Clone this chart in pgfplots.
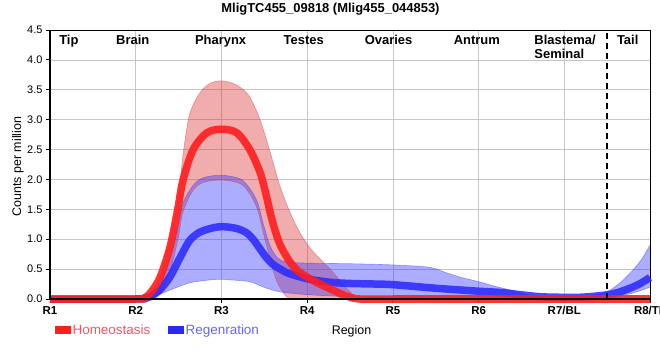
\documentclass[border=0pt]{standalone}
\usepackage{pgfplots}
\pgfplotsset{compat=1.18}
\usepackage{pgfplotstable}
\usepgfplotslibrary{fillbetween}
\usepackage{fontspec}
\setmainfont{Liberation Sans}
\definecolor{hred}{RGB}{255,30,30}
\definecolor{hband}{RGB}{220,50,50}
\definecolor{rblue}{RGB}{40,40,255}
\definecolor{rband}{RGB}{50,50,255}
\definecolor{htxt}{RGB}{255,80,100}
\definecolor{rtxt}{RGB}{100,100,255}

% Homeostasis mean
\pgfplotstableread{
x y
1 0
2 0
2.1 0.02
2.17 0.1
2.28 0.35
2.4 0.87
2.49 1.5
2.55 1.98
2.67 2.5
2.83 2.78
3.0 2.84
3.18 2.78
3.33 2.5
3.45 2.12
3.52 1.75
3.58 1.38
3.64 1.08
3.7 0.86
3.8 0.62
3.9 0.46
4.03 0.34
4.15 0.25
4.27 0.17
4.4 0.08
4.5 0.03
4.62 0
5 0
6 0
7 0
8 0
}\tHm
% Homeostasis upper
\pgfplotstableread{
x y
1 0
2 0
2.1 0.03
2.2 0.15
2.3 0.45
2.4 1.0
2.47 1.5
2.52 2.0
2.56 2.5
2.63 3.1
2.75 3.45
2.87 3.61
3.0 3.65
3.13 3.61
3.23 3.53
3.33 3.38
3.45 3.0
3.57 2.45
3.68 1.9
3.8 1.45
3.92 1.1
4.03 0.86
4.15 0.67
4.27 0.5
4.4 0.28
4.5 0.12
4.62 0
5 0
6 0
7 0
8 0
}\tHu
% Homeostasis lower
\pgfplotstableread{
x y
1 0
2 0
2.1 0
2.2 0.01
2.3 0.12
2.4 0.45
2.5 1.05
2.55 1.45
2.67 1.82
2.79 1.95
3.0 1.99
3.22 1.93
3.33 1.76
3.42 1.5
3.49 1.1
3.57 0.65
3.65 0.28
3.77 0.02
3.85 0
5 0
6 0
7 0
8 0
}\tHl
% Regeneration mean
\pgfplotstableread{
x y
1 0
2.0 0
2.1 0.01
2.17 0.04
2.28 0.15
2.4 0.37
2.52 0.7
2.63 0.98
2.75 1.12
2.9 1.19
3.0 1.21
3.1 1.2
3.2 1.17
3.3 1.1
3.38 0.98
3.45 0.84
3.52 0.7
3.6 0.58
3.7 0.49
3.8 0.42
4.03 0.33
4.27 0.28
4.5 0.26
4.8 0.25
5.0 0.24
5.5 0.18
6.0 0.13
6.25 0.11
6.5 0.07
6.7 0.04
6.9 0.03
7.2 0.03
7.5 0.07
7.65 0.12
7.8 0.2
7.9 0.27
8.0 0.36
}\tRm
% Regeneration upper
\pgfplotstableread{
x y
1 0
2.0 0
2.1 0.02
2.2 0.1
2.3 0.3
2.4 0.68
2.5 1.25
2.55 1.6
2.67 1.9
2.79 2.03
3.0 2.07
3.22 2.01
3.33 1.85
3.42 1.62
3.49 1.25
3.57 0.88
3.66 0.68
3.77 0.62
4.0 0.6
4.5 0.59
5.0 0.57
5.43 0.53
5.62 0.44
5.8 0.36
6.0 0.29
6.2 0.21
6.37 0.15
6.5 0.1
6.65 0.05
7.0 0.05
7.35 0.07
7.5 0.12
7.65 0.27
7.78 0.45
7.9 0.66
8.0 0.9
}\tRu
% Regeneration lower
\pgfplotstableread{
x y
1 0
2.1 0
2.2 0.03
2.4 0.15
2.63 0.27
2.87 0.32
3.0 0.33
3.1 0.32
3.33 0.29
3.49 0.2
3.68 0.12
4.03 0.07
4.62 0.03
5.0 0.02
6.0 0.01
7.0 0
7.5 0.02
7.8 0.1
8.0 0.2
}\tRl

\begin{document}
\begin{tikzpicture}
\begin{axis}[
  at={(0,0)}, anchor=south west,
  scale only axis, width=600bp, height=269bp,
  xmin=1, xmax=8, ymin=0, ymax=4.5,
  clip=false,
  xtick={1,2,3,4,5,6,7,8},
  xticklabels={R1,R2,R3,R4,R5,R6,R7/BL,R8/TL},
  ytick={0,0.5,...,4.5},
  /pgf/number format/assume math mode=true,
  yticklabel style={/pgf/number format/fixed, /pgf/number format/fixed zerofill, /pgf/number format/precision=1, font=\fontsize{11}{12}\selectfont},
  xticklabel style={font=\bfseries\fontsize{11.5}{12}\selectfont},
  tick align=outside, major tick length=4bp,
  xtick pos=bottom, ytick pos=left,
  tick style={black, line width=0.8bp},
  grid=major,
  major grid style={gray!45, line width=0.6bp},
  axis line style={black, line width=0.8bp},
  every axis title shift=0pt,
  title={MligTC455\_09818 (Mlig455\_044853)},
  title style={at={(axis description cs:0.4675,1.0651)}, anchor=base, inner sep=0pt, font=\bfseries\fontsize{13}{14}\selectfont},
  xlabel={Region},
  xlabel style={at={(axis description cs:0.5025,-0.1338)}, anchor=base, font=\fontsize{12.5}{13}\selectfont},
  ylabel={Counts per million},
  ylabel style={at={(axis description cs:-0.0483,0.492)}, anchor=base, font=\fontsize{12.5}{13}\selectfont},
  legend style={at={(axis description cs:0.0083,-0.1152)}, anchor=west, draw=none, fill=none,
    inner sep=0pt, font=\fontsize{13.5}{14}\selectfont,
    /tikz/every even column/.append style={column sep=16bp}},
  legend columns=2,
  legend cell align=left,
]
% bands
\addplot[draw=hband, draw opacity=0.45, line width=0.6bp, smooth, name path=hu, forget plot] table[x=x,y=y] {\tHu};
\addplot[draw=hband, draw opacity=0.45, line width=0.6bp, smooth, name path=hl, forget plot] table[x=x,y=y] {\tHl};
\addplot[fill=hband, fill opacity=0.4, draw=none, forget plot] fill between[of=hu and hl];
\addplot[draw=rband, draw opacity=0.45, line width=0.6bp, smooth, name path=ru, forget plot] table[x=x,y=y] {\tRu};
\addplot[draw=rband, draw opacity=0.45, line width=0.6bp, smooth, name path=rl, forget plot] table[x=x,y=y] {\tRl};
\addplot[fill=rband, fill opacity=0.4, draw=none, forget plot] fill between[of=ru and rl];
% means
\addplot[rblue, opacity=0.85, line width=7.5bp, smooth, forget plot] table[x=x,y=y] {\tRm};
\addplot[hred, opacity=0.9, line width=7.5bp, smooth, forget plot] table[x=x,y=y] {\tHm};
% divider
\addplot[black, line width=2.2bp, dash pattern=on 6bp off 4bp, forget plot] coordinates {(7.5,0) (7.5,4.5)};
% thick left/bottom axis
\draw[black, line width=2.6bp] (rel axis cs:0,1) -- (rel axis cs:0,0) -- (rel axis cs:1,0);
% region labels
\begin{scope}[every node/.style={font=\bfseries\fontsize{13}{14}\selectfont, inner sep=0pt, anchor=base}]
\node at (axis cs:1.22,4.264) {Tip};
\node at (axis cs:1.965,4.264) {Brain};
\node at (axis cs:2.99,4.264) {Pharynx};
\node at (axis cs:3.96,4.264) {Testes};
\node at (axis cs:4.95,4.264) {Ovaries};
\node at (axis cs:5.98,4.264) {Antrum};
\node[anchor=base west] at (axis cs:6.65,4.264) {Blastema/};
\node[anchor=base west] at (axis cs:6.65,4.022) {Seminal};
\node at (axis cs:7.74,4.264) {Tail};
\end{scope}
% legend
\addlegendimage{legend image code/.code={\fill[hred] (0bp,-3.5bp) rectangle (15bp,3.5bp);}}
\addlegendentry{\textcolor{htxt}{Homeostasis}}
\addlegendimage{legend image code/.code={\fill[rblue] (0bp,-3.5bp) rectangle (15bp,3.5bp);}}
\addlegendentry{\textcolor{rtxt}{Regenration}}
\end{axis}
\pgfresetboundingbox
\useasboundingbox (-50bp,-61bp) rectangle (610bp,299bp);
\end{tikzpicture}
\end{document}
